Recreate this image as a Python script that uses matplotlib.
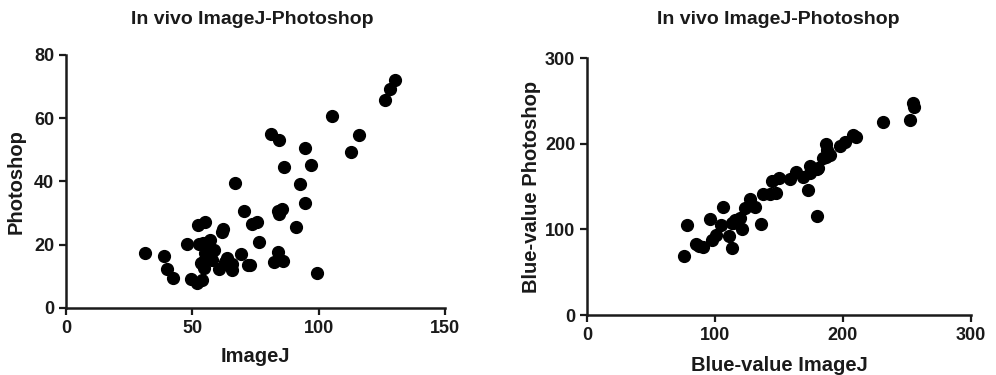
import numpy as np
import matplotlib
matplotlib.use("Agg")
import matplotlib.pyplot as plt

plt.rcParams['font.family'] = ['Liberation Sans', 'DejaVu Sans']
plt.rcParams['font.weight'] = 'bold'

# left panel: ImageJ vs Photoshop (in vivo)
imagej = [130.4, 128.4, 126.1, 105.2, 115.8, 112.9, 81.2, 84.3, 94.4, 97.0,
          86.2, 92.7, 66.9, 94.4, 85.4, 84.3, 84.0, 70.6, 75.5, 73.5,
          90.9, 62.2, 61.6, 55.0, 52.1, 76.4, 56.9, 47.9, 52.7, 55.6,
          58.5, 55.0, 31.4, 38.8, 69.2, 84.0, 63.6, 57.6, 53.6, 63.0,
          65.5, 72.1, 72.8, 82.5, 86.0, 60.5, 65.5, 54.7, 39.8, 99.3,
          42.4, 49.4, 51.7, 54.0, 54.5, 54.3]
photoshop = [72.1, 69.2, 65.9, 60.7, 54.7, 49.2, 54.9, 53.1, 50.5, 45.2,
             44.6, 39.1, 39.5, 33.2, 31.4, 29.7, 30.7, 30.6, 27.2, 26.7,
             25.6, 25.1, 23.9, 27.2, 26.2, 20.9, 21.6, 20.2, 20.2, 19.3,
             18.3, 17.5, 17.5, 16.5, 17.2, 17.7, 15.9, 15.1, 14.2, 14.6,
             13.8, 13.5, 13.5, 14.4, 14.9, 12.2, 11.9, 12.5, 12.3, 11.2,
             9.6, 9.2, 8.0, 9.0, 15.0, 20.4]

# right panel: blue values
blue_imagej = [254.7, 255.5, 252.1, 231.3, 209.9, 208.0, 201.3, 197.4, 187.0, 187.5,
               187.0, 189.6, 184.4, 180.0, 174.0, 174.5, 168.8, 163.6, 158.4, 150.0,
               144.8, 148.0, 142.7, 137.5, 173.0, 180.0, 127.1, 131.0, 123.8, 106.3,
               96.4, 119.3, 115.4, 114.1, 104.5, 136.2, 78.1, 121.4, 113.5, 101.1,
               98.0, 110.7, 84.9, 90.6, 87.5, 113.6, 75.5, 180.5]
blue_photoshop = [247.0, 243.0, 227.5, 225.6, 208.0, 210.0, 202.0, 197.2, 199.5, 192.5,
                  184.7, 186.7, 182.8, 170.4, 173.9, 166.0, 160.7, 167.2, 158.7, 159.5,
                  156.7, 142.7, 140.8, 140.8, 145.9, 115.9, 135.0, 126.4, 124.5, 126.4,
                  112.0, 112.8, 110.9, 107.0, 105.0, 105.8, 105.0, 100.0, 107.0, 93.4,
                  87.5, 92.5, 82.5, 79.0, 80.5, 77.8, 68.8, 172.0]

fig = plt.figure(figsize=(9.96, 3.75), dpi=100)
ax1 = fig.add_axes([0.0663, 0.1787, 0.3805, 0.6747])
ax2 = fig.add_axes([0.5893, 0.16, 0.3855, 0.6853])

ink = '#1a1a1a'


def style(ax):
    for s in ['top', 'right']:
        ax.spines[s].set_visible(False)
    for s in ['left', 'bottom']:
        ax.spines[s].set_linewidth(1.8)
        ax.spines[s].set_color(ink)
    ax.tick_params(direction='out', length=5, width=1.6, labelsize=13, colors=ink)
    for lab in ax.get_xticklabels() + ax.get_yticklabels():
        lab.set_fontweight('bold')


ax1.plot(imagej, photoshop, 'o', color='black', markersize=8.5, clip_on=False)
ax1.set_xlim(0, 150)
ax1.set_ylim(0, 80)
ax1.set_xticks([0, 50, 100, 150])
ax1.set_yticks([0, 20, 40, 60, 80])
style(ax1)
ax1.set_xlabel('ImageJ', fontsize=14.5, fontweight='bold', labelpad=7, color=ink)
ax1.set_ylabel('Photoshop', fontsize=14.5, fontweight='bold', labelpad=6, color=ink)

ax2.plot(blue_imagej, blue_photoshop, 'o', color='black', markersize=8.5, clip_on=False)
ax2.set_xlim(0, 300)
ax2.set_ylim(0, 300)
ax2.set_xticks([0, 100, 200, 300])
ax2.set_yticks([0, 100, 200, 300])
style(ax2)
ax2.set_xlabel('Blue-value ImageJ', fontsize=14.5, fontweight='bold', labelpad=9, color=ink)
ax2.set_ylabel('Blue-value Photoshop', fontsize=14.5, fontweight='bold', labelpad=3, color=ink)

# titles sit at the same height above both panels
fig.text(0.253, 0.949, 'In vivo ImageJ-Photoshop', ha='center', va='center',
         fontsize=14, fontweight='bold', color=ink)
fig.text(0.781, 0.949, 'In vivo ImageJ-Photoshop', ha='center', va='center',
         fontsize=14, fontweight='bold', color=ink)

fig.savefig('out.png', dpi=100)
